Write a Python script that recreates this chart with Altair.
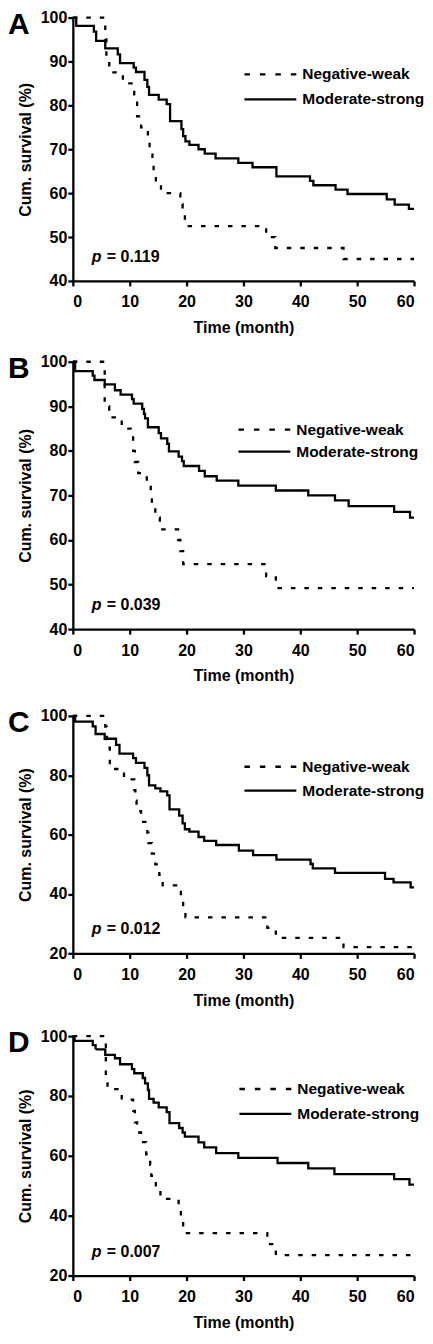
import altair as alt
import pandas as pd

FONT = "Liberation Sans"
groups = ["Negative-weak", "Moderate-strong"]
x_ticks = [0, 10, 20, 30, 40, 50, 60]
y_ticks_ab = [40, 50, 60, 70, 80, 90, 100]
y_ticks_cd = [20, 40, 60, 80, 100]

# ---- Panel A ----
A_weak_t = [0, 5.7, 5.9, 6.4, 8.8, 10.8, 11.3, 12.0, 13.2, 13.5, 14.0, 14.2, 14.6, 15.5, 18.9, 19.3, 19.7, 34.0, 35.6, 47.6, 60]
A_weak_s = [100, 95.0, 90.0, 87.5, 85.0, 82.5, 77.5, 75.0, 72.5, 70.0, 67.5, 65.0, 62.5, 60.0, 57.5, 55.0, 52.5, 50.0, 47.5, 45.0, 45.0]
A_mod_t = [0, 0.6, 3.7, 4.1, 5.7, 7.9, 8.3, 10.7, 11.1, 12.6, 13.1, 13.4, 15.1, 16.5, 17.1, 19.1, 19.4, 19.8, 20.5, 22.1, 23.2, 25.1, 29.1, 31.6, 35.8, 41.7, 42.3, 46.2, 48.3, 55.2, 56.6, 59.1, 60]
A_mod_s = [100, 98.1, 96.8, 94.7, 93.0, 91.6, 89.6, 88.6, 87.6, 85.8, 84.2, 82.4, 81.3, 80.3, 76.4, 74.6, 73.0, 71.8, 71.0, 70.0, 69.0, 67.9, 66.9, 65.9, 63.8, 62.8, 61.8, 60.8, 59.8, 58.6, 57.4, 56.4, 56.4]

# ---- Panel B ----
B_weak_t = [0, 5.6, 6.4, 8.6, 10.6, 10.9, 11.5, 13.0, 13.7, 13.9, 14.5, 15.3, 18.5, 18.9, 19.4, 34.0, 35.7, 60]
B_weak_s = [100, 90.0, 87.5, 85.0, 80.0, 77.5, 75.0, 72.5, 70.0, 67.5, 65.0, 62.4, 60.0, 57.5, 54.6, 51.9, 49.2, 49.2]
B_mod_t = [0, 0.4, 3.5, 3.8, 5.6, 7.4, 8.4, 10.4, 10.7, 12.2, 12.5, 12.7, 13.2, 15.1, 15.5, 16.6, 16.9, 18.6, 19.2, 19.5, 22.2, 23.2, 25.3, 29.1, 35.7, 41.4, 46.1, 48.5, 56.5, 59.3, 60]
B_mod_s = [100, 97.9, 96.9, 95.9, 94.9, 93.6, 92.6, 91.6, 90.6, 89.4, 88.3, 87.3, 85.3, 84.0, 82.8, 81.6, 79.9, 78.7, 77.7, 76.6, 75.5, 74.3, 73.3, 72.2, 71.1, 70.0, 68.9, 67.6, 66.3, 65.0, 65.0]

# ---- Panel C ----
C_weak_t = [0, 5.7, 6.0, 6.5, 9.0, 10.8, 11.0, 11.2, 12.0, 13.1, 13.3, 13.9, 14.5, 15.2, 15.8, 19.0, 19.4, 19.8, 34.2, 35.7, 47.6, 60]
C_weak_s = [100, 96.4, 89.3, 82.1, 78.6, 75.0, 71.4, 67.9, 64.3, 60.7, 57.1, 53.6, 50.0, 46.4, 42.9, 39.3, 35.7, 32.1, 28.6, 25.2, 22.1, 22.1]
C_mod_t = [0, 0.4, 3.5, 4.0, 5.6, 7.6, 8.2, 10.6, 11.1, 12.6, 13.1, 13.4, 14.5, 15.4, 16.6, 17.0, 18.7, 19.3, 19.7, 20.5, 22.1, 23.1, 25.2, 29.2, 31.7, 35.8, 41.8, 42.2, 46.1, 54.9, 56.4, 59.4, 60]
C_mod_s = [100, 98.1, 96.5, 93.9, 92.3, 90.2, 87.3, 85.8, 84.2, 82.5, 80.0, 76.6, 75.6, 74.6, 73.2, 68.5, 66.4, 63.8, 61.8, 61.0, 59.2, 57.9, 56.5, 54.6, 53.1, 51.6, 50.1, 48.6, 47.1, 45.1, 43.9, 42.2, 42.2]

# ---- Panel D ----
D_weak_t = [0, 5.8, 6.1, 8.6, 10.6, 10.9, 11.3, 12.0, 12.9, 13.6, 13.8, 14.6, 15.4, 18.6, 19.0, 19.4, 34.2, 35.7, 60]
D_weak_s = [100, 86.5, 82.3, 78.8, 75.0, 71.2, 67.8, 64.6, 60.5, 57.0, 53.3, 49.6, 45.6, 41.8, 38.0, 34.2, 30.5, 26.8, 26.8]
D_mod_t = [0, 0.3, 3.5, 4.0, 5.7, 7.4, 8.3, 10.4, 10.8, 12.3, 12.7, 13.2, 13.4, 14.2, 15.1, 16.5, 17.0, 18.7, 19.3, 19.7, 22.1, 23.1, 25.2, 29.1, 36.0, 41.4, 46.0, 56.5, 59.2, 60]
D_mod_s = [100, 98.4, 97.0, 95.6, 93.7, 92.6, 90.6, 89.0, 87.6, 86.0, 84.2, 82.0, 79.0, 77.8, 76.2, 74.6, 70.9, 69.3, 67.8, 66.4, 64.5, 62.8, 60.9, 59.3, 57.6, 55.8, 53.9, 52.2, 50.4, 50.4]

letters = ["A", "B", "C", "D"]
p_values = ["= 0.119", "= 0.039", "= 0.012", "= 0.007"]

W = 342
panels_cfg = [
    dict(letter=letters[0], p=p_values[0], dom=[40, 100], ticks=y_ticks_ab, h=264, lx=172, ly=(57, 82),
         weak=(A_weak_t, A_weak_s), mod=(A_mod_t, A_mod_s)),
    dict(letter=letters[1], p=p_values[1], dom=[40, 100], ticks=y_ticks_ab, h=268, lx=166, ly=(68, 90),
         weak=(B_weak_t, B_weak_s), mod=(B_mod_t, B_mod_s)),
    dict(letter=letters[2], p=p_values[2], dom=[20, 100], ticks=y_ticks_cd, h=238, lx=172, ly=(51, 75),
         weak=(C_weak_t, C_weak_s), mod=(C_mod_t, C_mod_s)),
    dict(letter=letters[3], p=p_values[3], dom=[20, 100], ticks=y_ticks_cd, h=240, lx=167, ly=(53, 78),
         weak=(D_weak_t, D_weak_s), mod=(D_mod_t, D_mod_s)),
]


def make_panel(cfg):
    rows = []
    for g, (ts, ss) in zip(groups, [cfg["weak"], cfg["mod"]]):
        for t, s in zip(ts, ss):
            rows.append({"group": g, "time": t, "surv": s})
    df = pd.DataFrame(rows)
    h = cfg["h"]

    lines = alt.Chart(df).mark_line(interpolate="step-after", color="black", strokeWidth=2.3).encode(
        x=alt.X("time:Q", scale=alt.Scale(domain=[0, 60], nice=False, zero=False),
                axis=alt.Axis(values=x_ticks, title="Time (month)")),
        y=alt.Y("surv:Q", scale=alt.Scale(domain=cfg["dom"], nice=False, zero=False),
                axis=alt.Axis(values=cfg["ticks"], title="Cum. survival (%)", titleX=-39, titleY=h / 2)),
        strokeDash=alt.StrokeDash("group:N", scale=alt.Scale(domain=groups, range=[[4.5, 9], [1, 0]]),
                                  legend=None),
    )

    ann = pd.DataFrame({"letter": [cfg["letter"]], "p": ["p"], "pv": [cfg["p"]]})
    base = alt.Chart(ann)
    letter = base.mark_text(
        align="left", baseline="alphabetic", font=FONT, fontSize=30, fontWeight="bold", color="black"
    ).encode(x=alt.value(-65), y=alt.value(16), text="letter:N")
    p1 = base.mark_text(
        align="left", baseline="alphabetic", font=FONT, fontSize=16, fontWeight="bold",
        fontStyle="italic", color="black"
    ).encode(x=alt.value(19), y=alt.value(h - 19), text="p:N")
    p2 = base.mark_text(
        align="left", baseline="alphabetic", font=FONT, fontSize=16, fontWeight="bold", color="black"
    ).encode(x=alt.value(34), y=alt.value(h - 19), text="pv:N")

    lx = cfg["lx"]
    ly1, ly2 = cfg["ly"]
    leg_dash = base.mark_rule(color="black", strokeWidth=2.3, strokeDash=[5.5, 10]).encode(
        x=alt.value(lx), x2=alt.value(lx + 52), y=alt.value(ly1))
    leg_solid = base.mark_rule(color="black", strokeWidth=2.3).encode(
        x=alt.value(lx), x2=alt.value(lx + 52), y=alt.value(ly2))
    leg_t1 = base.mark_text(align="left", baseline="middle", font=FONT, fontSize=15.5,
                            fontWeight="bold", color="black").encode(
        x=alt.value(lx + 58), y=alt.value(ly1), text=alt.value(groups[0]))
    leg_t2 = base.mark_text(align="left", baseline="middle", font=FONT, fontSize=15.5,
                            fontWeight="bold", color="black").encode(
        x=alt.value(lx + 58), y=alt.value(ly2), text=alt.value(groups[1]))

    return alt.layer(lines, letter, p1, p2, leg_dash, leg_solid, leg_t1, leg_t2).properties(
        width=W, height=h)


pA, pB, pC, pD = [make_panel(c) for c in panels_cfg]
top = alt.vconcat(pA, pB, spacing=18).resolve_scale(y="independent")
bottom = alt.vconcat(pC, pD, spacing=20).resolve_scale(y="independent")

chart = alt.vconcat(top, bottom, spacing=24).resolve_scale(
    y="independent"
).properties(
    padding=0, background="white"
).configure_view(stroke=None).configure_axis(
    grid=False, domainColor="black", domainWidth=2.3, tickColor="black", tickWidth=2.3, tickSize=5,
    labelFont=FONT, labelFontSize=16, labelFontWeight="bold", labelColor="black",
    titleFont=FONT, titleFontSize=16, titleFontWeight="bold", titleColor="black",
).configure_axisX(labelPadding=8, titlePadding=10).configure_axisY(labelPadding=1, titlePadding=3)

chart.save("out.html", embed_options={"renderer": "svg", "actions": False})
